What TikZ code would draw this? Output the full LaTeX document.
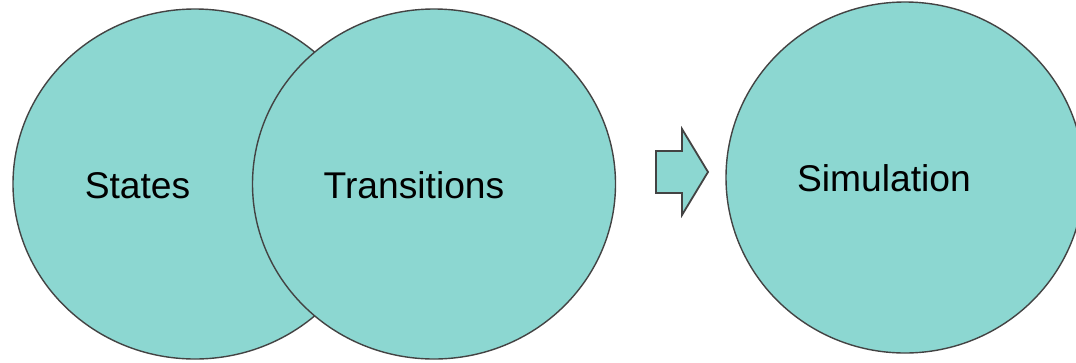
\documentclass[tikz,border=0pt]{standalone}
\usepackage{fontspec}
\setmainfont{Liberation Sans}
\usetikzlibrary{shapes.geometric}
\definecolor{tealfill}{HTML}{8CD7D1}
\definecolor{edge}{HTML}{434343}
\begin{document}
\begin{tikzpicture}[x=1pt,y=-1pt,
  blob/.style={ellipse,draw=edge,fill=tealfill,line width=1.4pt,inner sep=0pt},
  lbl/.style={anchor=base,inner sep=0pt,font=\fontsize{37.2}{44}\selectfont}]
\clip (0,0) rectangle (1076,362);
\fill[white] (0,0) rectangle (1076,362);
\node[blob,minimum width=364pt,minimum height=350pt] (states) at (195,184) {};
\node[blob,minimum width=363pt,minimum height=350pt] (trans) at (434,184) {};
\node[blob,minimum width=358pt,minimum height=351pt] (sim) at (905,177.5) {};
\node[lbl] (tstates) at (137.5,198) {States};
\node[lbl] (ttrans) at (414,198) {Transitions};
\node[lbl] (tsim) at (884,191) {Simulation};
\draw[edge,fill=tealfill,line width=1.8pt,line join=miter]
  (656,151) -- (682,151) -- (682,129) -- (708,172) -- (682,215) -- (682,193) -- (656,193) -- cycle;
\end{tikzpicture}
\end{document}
